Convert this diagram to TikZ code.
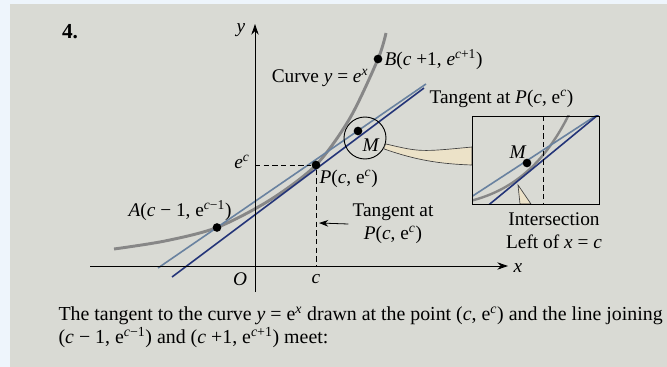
\documentclass[tikz,border=0pt]{standalone}
\usepackage{fontspec}
\setmainfont{Liberation Serif}
\usetikzlibrary{arrows.meta,positioning}
\definecolor{paper}{RGB}{217,218,212}
\definecolor{frame}{RGB}{238,245,252}
\definecolor{curvegray}{RGB}{135,135,135}
\definecolor{chordblue}{RGB}{105,130,160}
\definecolor{tanblue}{RGB}{35,52,120}
\definecolor{wedgetan}{RGB}{236,226,200}
\newcommand{\ital}[1]{\textit{#1}}
\newcommand{\expo}[2]{#1\textsuperscript{#2}}

\begin{document}
\begin{tikzpicture}[x=0.75pt, y=-0.75pt,
    font=\fontsize{14.5}{17}\selectfont,
    axis/.style={-{Stealth[length=8pt,width=5.5pt]}, line width=0.7pt},
    curve/.style={curvegray, line width=2.2pt},
    chord/.style={chordblue, line width=1.2pt},
    tangent/.style={tanblue, line width=1.2pt},
    guide/.style={dash pattern=on 4pt off 2.5pt, line width=0.6pt},
    dot/.style={circle, fill=black, inner sep=0pt, minimum size=6.5pt},
    lbl/.style={inner sep=1pt},
    wedge/.style={fill=wedgetan, draw=black!75, line width=0.5pt},
    pointer/.style={-{Stealth[length=7pt,width=5pt]}, line width=0.6pt}
  ]
  \clip (0,0) rectangle (667,367);
  \fill[frame] (0,0) rectangle (667,367);
  \fill[paper] (10,4) rectangle (667,367);

  \draw[curve] plot[smooth] coordinates {(114,249) (165,241) (217,227.5) (270,200) (316,165) (350,118) (378,59) (386,33)};
  \draw[chord] (158,268) -- (426,84);
  \draw[tangent] (172,277) -- (424,88);

  \coordinate (ybot) at (255,292);
  \coordinate (ytop) at (255,24);
  \coordinate (xleft) at (90,266);
  \coordinate (xright) at (508,266);
  \draw[axis] (ybot) -- (ytop);
  \draw[axis] (xleft) -- (xright);

  \node[dot] (A) at (217,227.5) {};
  \node[dot] (P) at (316,165) {};
  \node[dot] (B) at (378,59) {};
  \node[dot] (M) at (358,131) {};

  \coordinate (ec) at (255,165);
  \coordinate (cfoot) at (316,266);
  \draw[guide] (ec) -- (P);
  \draw[guide] (P) -- (cfoot);

  \node[draw, circle, line width=0.7pt, minimum size=31.5pt, inner sep=0pt] (lens) at (365,138) {};
  \coordinate (w1) at (472,147);
  \coordinate (w2) at (472,165);
  \filldraw[wedge] (lens.-16) .. controls (420,152) .. (w1) -- (w2) .. controls (440,164) and (415,160) .. (lens.-30) -- cycle;

  \begin{scope}
    \clip (472,116) rectangle (599,204);
    \draw[curve, line width=1.8pt] (470,201) .. controls (515,190) and (548,160) .. (572,108);
    \draw[chord] (465,201) -- (603,111);
    \draw[tangent] (485,208) -- (604,110);
    \draw[guide] (543,116) -- (543,204);
  \end{scope}
  \coordinate (wtip) at (518,185);
  \filldraw[wedge] (wtip) -- (520,204) -- (531,204) -- cycle;
  \node[draw, line width=0.7pt, minimum width=95.25pt, minimum height=66pt, inner sep=0pt] (inset) at (535.5,160) {};
  \node[dot] (M2) at (527,163) {};

  \node[font=\fontsize{16}{18}\selectfont\bfseries] (num) at (70,32) {4.};
  \node[lbl] (ylbl) at (241,30) {\ital{y}};
  \node[lbl] (xlbl) at (518,268) {\ital{x}};
  \node[lbl] (olbl) at (240,279) {\ital{O}};
  \node[lbl] (clbl) at (316,279) {\ital{c}};
  \node[lbl] (eclbl) at (242,162) {\expo{\ital{e}}{\ital{c}}};
  \node[lbl] (curvelbl) at (320,78) {Curve \ital{y} = \expo{\ital{e}}{\ital{x}}};
  \node[lbl, anchor=west] (blbl) at (383,60) {\ital{B}(\ital{c} +1, \expo{\ital{e}}{\ital{c}+1})};
  \node[lbl, anchor=west] (tantop) at (428,99) {Tangent at \ital{P}(\ital{c}, \expo{e}{\ital{c}})};
  \node[lbl, anchor=west] (plbl) at (318,179) {\ital{P}(\ital{c}, \expo{e}{\ital{c}})};
  \node[lbl] (mlbl) at (371,145) {\ital{M}};
  \node[lbl] (m2lbl) at (518,152) {\ital{M}};
  \node[lbl, align=center] (tanlbl) at (393,224) {Tangent at\\\ital{P}(\ital{c}, \expo{e}{\ital{c}})};
  \node[lbl] (albl) at (180,211) {\ital{A}(\ital{c} − 1, \expo{e}{\ital{c}−1})};
  \node[lbl, align=center] (intlbl) at (554,231) {Intersection\\Left of \ital{x} = \ital{c}};
  \coordinate (ctip) at (319,223);
  \draw[pointer] ([xshift=-2pt]tanlbl.west) -- (ctip);

  \node[lbl, anchor=north west, align=left, font=\fontsize{14.9}{17}\selectfont] (question) at (57,305) {The tangent to the curve \ital{y} = \expo{e}{\ital{x}} drawn at the point (\ital{c}, \expo{e}{\ital{c}}) and the line joining\\(\ital{c} − 1, \expo{e}{\ital{c}−1}) and (\ital{c} +1, \expo{e}{\ital{c}+1}) meet:};
\end{tikzpicture}
\end{document}
